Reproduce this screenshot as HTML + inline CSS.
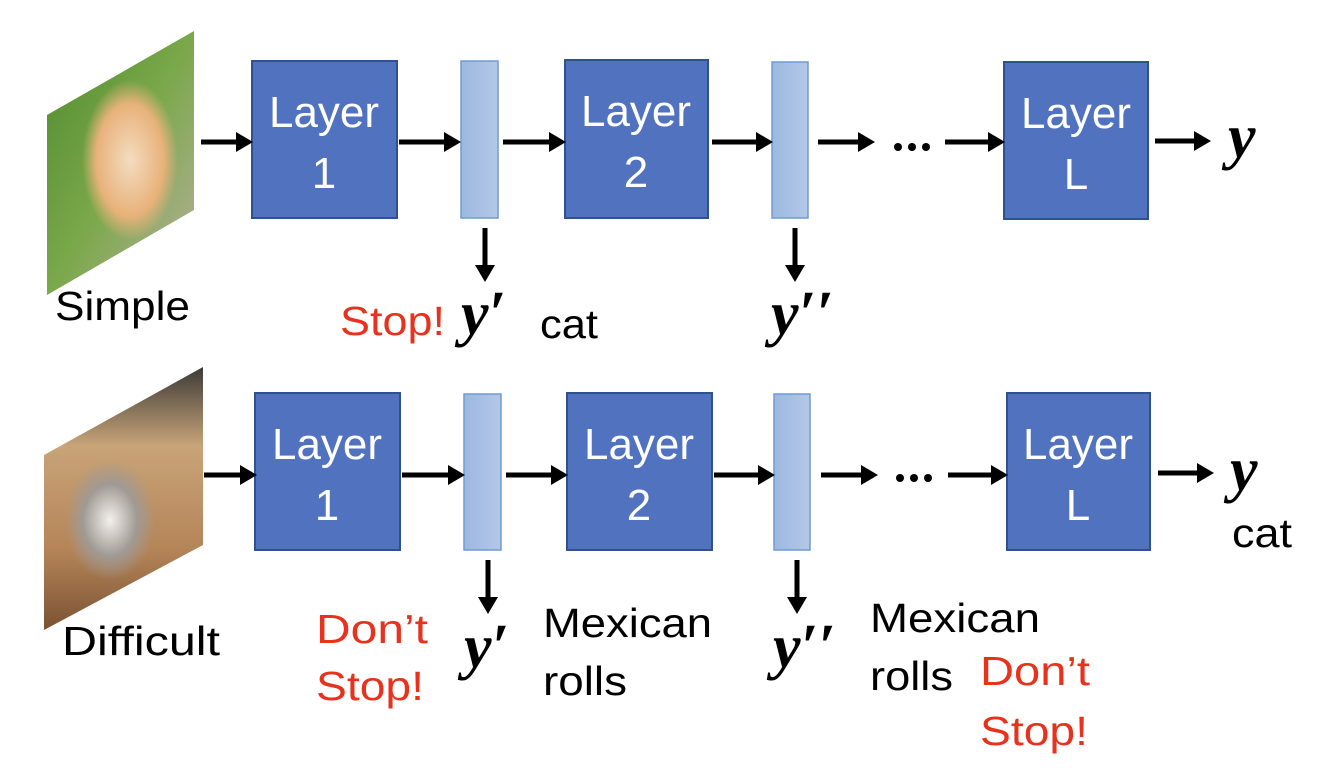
<!DOCTYPE html>
<html><head><meta charset="utf-8"><style>
html,body{margin:0;padding:0;background:#fff;}
svg{display:block}
text{font-family:"Liberation Sans",sans-serif;}
.w{fill:#fff;font-size:44px;text-anchor:middle}
.b{fill:#000;font-size:41px}
.r{fill:#e8321e;font-size:41px}
.m{font-family:"Liberation Serif",serif;font-style:italic;font-weight:bold;font-size:62px;fill:#000}
</style></head><body>
<svg width="1334" height="778" viewBox="0 0 1334 778" xmlns="http://www.w3.org/2000/svg">
<defs>
<marker id="ah" markerWidth="4" markerHeight="4" refX="0" refY="2" orient="auto" markerUnits="strokeWidth"><path d="M0,0 L3.4,2 L0,4 z" fill="#000"/></marker>
<linearGradient id="bar" x1="0" x2="1"><stop offset="0" stop-color="#9cb8e0"/><stop offset="1" stop-color="#b4c8e8"/></linearGradient>
<linearGradient id="g1" x1="0" y1="0" x2="1" y2="1"><stop offset="0" stop-color="#4f8a2e"/><stop offset="0.5" stop-color="#7aa84a"/><stop offset="1" stop-color="#b8b0a0"/></linearGradient>
<radialGradient id="k1" cx="0.5" cy="0.5" r="0.5"><stop offset="0" stop-color="#f4dcc0"/><stop offset="0.7" stop-color="#e8b27a"/><stop offset="1" stop-color="#e8b27a" stop-opacity="0"/></radialGradient>
<linearGradient id="g2" x1="0" y1="0" x2="0" y2="1"><stop offset="0" stop-color="#3c3a38"/><stop offset="0.3" stop-color="#c8a478"/><stop offset="0.7" stop-color="#b48458"/><stop offset="1" stop-color="#7a5232"/></linearGradient>
<radialGradient id="k2" cx="0.5" cy="0.5" r="0.5"><stop offset="0" stop-color="#f4f0ec"/><stop offset="0.6" stop-color="#a09a94"/><stop offset="1" stop-color="#a09a94" stop-opacity="0"/></radialGradient>
</defs>
<polygon points="47,115 194,31 194,210 47,295" fill="url(#g1)"/>
<ellipse cx="130" cy="160" rx="48" ry="80" fill="url(#k1)"/>
<polygon points="44,455 203,367 203,545 44,630" fill="url(#g2)"/>
<ellipse cx="110" cy="520" rx="45" ry="60" fill="url(#k2)"/>

<g stroke="#2f528f" stroke-width="2" fill="#5172be">
<rect x="252" y="61" width="145" height="157"/>
<rect x="565" y="60" width="143" height="158"/>
<rect x="1004" y="62" width="144" height="157"/>
<rect x="255" y="393" width="145" height="157"/>
<rect x="567" y="393" width="145" height="157"/>
<rect x="1007" y="393" width="143" height="157"/>
</g>
<g stroke="#6f9bd2" stroke-width="1.5" fill="url(#bar)">
<rect x="461" y="61" width="37" height="157"/>
<rect x="772" y="62" width="36" height="156"/>
<rect x="464" y="394" width="37" height="156"/>
<rect x="774" y="394" width="36" height="156"/>
</g>
<g class="w">
<text x="324" y="127" textLength="110" lengthAdjust="spacingAndGlyphs">Layer</text><text x="324" y="188">1</text>
<text x="636" y="126" textLength="110" lengthAdjust="spacingAndGlyphs">Layer</text><text x="636" y="187">2</text>
<text x="1076" y="128" textLength="110" lengthAdjust="spacingAndGlyphs">Layer</text><text x="1076" y="189">L</text>
<text x="327" y="459" textLength="110" lengthAdjust="spacingAndGlyphs">Layer</text><text x="327" y="520">1</text>
<text x="639" y="459" textLength="110" lengthAdjust="spacingAndGlyphs">Layer</text><text x="639" y="520">2</text>
<text x="1078" y="459" textLength="110" lengthAdjust="spacingAndGlyphs">Layer</text><text x="1078" y="520">L</text>
</g>
<g stroke="#000" stroke-width="5" marker-end="url(#ah)">
<line x1="201" y1="142" x2="236" y2="142"/>
<line x1="399" y1="142" x2="444" y2="142"/>
<line x1="503" y1="142" x2="549" y2="142"/>
<line x1="712" y1="142" x2="756" y2="142"/>
<line x1="818" y1="142" x2="858" y2="142"/>
<line x1="945" y1="142" x2="988" y2="142"/>
<line x1="1155" y1="141" x2="1194" y2="141"/>
<line x1="204" y1="475" x2="240" y2="475"/>
<line x1="402" y1="475" x2="448" y2="475"/>
<line x1="506" y1="475" x2="551" y2="475"/>
<line x1="714" y1="475" x2="758" y2="475"/>
<line x1="821" y1="475" x2="861" y2="475"/>
<line x1="948" y1="475" x2="991" y2="475"/>
<line x1="1158" y1="473" x2="1197" y2="473"/>
<line x1="485" y1="228" x2="485" y2="265"/>
<line x1="795" y1="228" x2="795" y2="265"/>
<line x1="488" y1="560" x2="488" y2="597"/>
<line x1="797" y1="560" x2="797" y2="597"/>
</g>
<g fill="#000">
<circle cx="898" cy="147" r="4"/><circle cx="912" cy="147" r="4"/><circle cx="926" cy="147" r="4"/>
<circle cx="900" cy="478" r="4"/><circle cx="914" cy="478" r="4"/><circle cx="928" cy="478" r="4"/>
</g>
<text class="m" x="1228" y="157">y</text>
<text class="m" x="1230" y="490">y</text>
<text class="m" x="461" y="334">y′</text>
<text class="m" x="771" y="334">y′′</text>
<text class="m" x="464" y="667">y′</text>
<text class="m" x="773" y="667">y′′</text>
<text class="b" x="55" y="320" textLength="135" lengthAdjust="spacingAndGlyphs">Simple</text>
<text class="b" x="62" y="655" textLength="158" lengthAdjust="spacingAndGlyphs">Difficult</text>
<text class="r" x="340" y="335" textLength="105" lengthAdjust="spacingAndGlyphs">Stop!</text>
<text class="b" x="540" y="338" textLength="58" lengthAdjust="spacingAndGlyphs">cat</text>
<text class="b" x="1232" y="547" textLength="60" lengthAdjust="spacingAndGlyphs">cat</text>
<text class="r" x="316" y="643" textLength="112" lengthAdjust="spacingAndGlyphs">Don’t</text>
<text class="r" x="316" y="700" textLength="108" lengthAdjust="spacingAndGlyphs">Stop!</text>
<text class="b" x="543" y="637" textLength="169" lengthAdjust="spacingAndGlyphs">Mexican</text>
<text class="b" x="543" y="695" textLength="84" lengthAdjust="spacingAndGlyphs">rolls</text>
<text class="b" x="870" y="632" textLength="170" lengthAdjust="spacingAndGlyphs">Mexican</text>
<text class="b" x="870" y="690" textLength="83" lengthAdjust="spacingAndGlyphs">rolls</text>
<text class="r" x="980" y="685" textLength="110" lengthAdjust="spacingAndGlyphs">Don’t</text>
<text class="r" x="980" y="745" textLength="108" lengthAdjust="spacingAndGlyphs">Stop!</text>
</svg>
</body></html>
